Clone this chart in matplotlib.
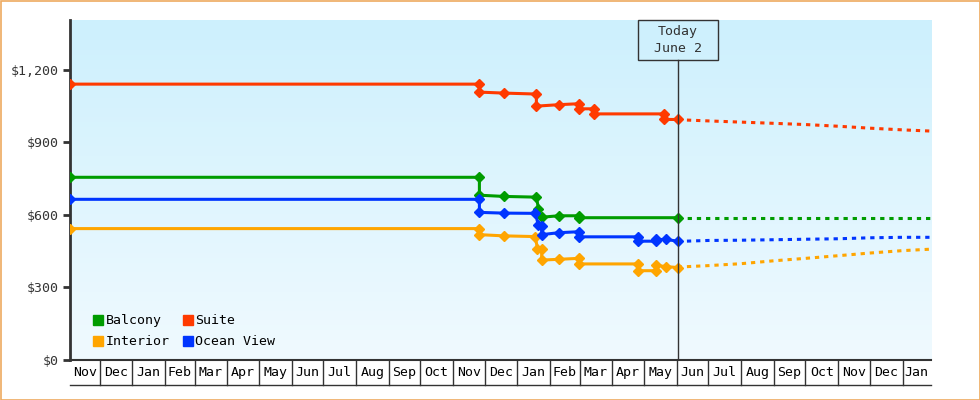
import matplotlib
matplotlib.use("Agg")
import matplotlib.pyplot as plt
import matplotlib.dates as mdates
from matplotlib.colors import LinearSegmentedColormap
from matplotlib.lines import Line2D
from matplotlib.patches import Rectangle
import numpy as np
import pandas as pd

# range of the time axis and "today"
x_start = "2016-11-03"
x_end = "2019-01-28"
today = "2018-06-02"

# observed prices (repeated dates = price change on that day)
balcony_dates = ["2016-11-03", "2017-11-26", "2017-11-26", "2017-12-19", "2018-01-19",
                 "2018-01-21", "2018-01-24", "2018-02-09", "2018-02-28", "2018-02-28", "2018-06-02"]
balcony_prices = [755, 755, 681, 676, 673, 626, 590, 596, 596, 588, 588]

suite_dates = ["2016-11-03", "2017-11-26", "2017-11-26", "2017-12-19", "2018-01-19", "2018-01-19",
               "2018-02-09", "2018-02-28", "2018-02-28", "2018-03-15", "2018-03-15",
               "2018-05-20", "2018-05-20", "2018-06-02"]
suite_prices = [1140, 1140, 1107, 1103, 1099, 1049, 1055, 1059, 1038, 1038, 1017, 1017, 994, 994]

ocean_dates = ["2016-11-03", "2017-11-26", "2017-11-26", "2017-12-19", "2018-01-18", "2018-01-21",
               "2018-01-24", "2018-01-24", "2018-02-09", "2018-02-28", "2018-02-28",
               "2018-04-25", "2018-04-25", "2018-05-12", "2018-05-12", "2018-05-22", "2018-06-02"]
ocean_prices = [664, 664, 610, 607, 606, 556, 553, 518, 526, 530, 509, 509, 491, 491, 498, 498, 491]

interior_dates = ["2016-11-03", "2017-11-26", "2017-11-26", "2017-12-19", "2018-01-18", "2018-01-20",
                  "2018-01-24", "2018-01-24", "2018-02-09", "2018-02-28", "2018-02-28",
                  "2018-04-25", "2018-04-25", "2018-05-12", "2018-05-12", "2018-05-22", "2018-06-02"]
interior_prices = [543, 543, 518, 513, 510, 460, 460, 413, 416, 420, 397, 397, 369, 369, 391, 386, 382]

# forecast after today
fc_dates = ["2018-06-02", "2018-07-01", "2018-08-01", "2018-09-01", "2018-10-01",
            "2018-11-01", "2018-12-01", "2019-01-01", "2019-01-28"]
fc_balcony = [588, 588, 588, 588, 588, 588, 588, 588, 588]
fc_suite = [993, 988, 983, 978, 973, 966, 958, 951, 946]
fc_ocean = [490, 494, 495, 497, 499, 501, 505, 507, 507]
fc_interior = [384, 390, 398, 410, 420, 431, 442, 452, 458]

names = ["Balcony", "Interior", "Suite", "Ocean View"]
colors = ["#009c00", "#ffa500", "#ff3a00", "#0035ff"]

yticks = [0, 300, 600, 900, 1200]
ytick_labels = ["$0", "$300", "$600", "$900", "$1,200"]

font = "DejaVu Sans Mono"
dark = "#333333"

fig = plt.figure(figsize=(9.8, 4), dpi=100)
fig.patch.set_facecolor("white")
ax = fig.add_axes([70 / 980, 40 / 400, 861 / 980, 340 / 400])

# background gradient
cmap = LinearSegmentedColormap.from_list("bg", ["#f0faff", "#cdf0fd"])
grad = np.linspace(0, 1, 256).reshape(-1, 1)
ax.imshow(grad, extent=[0, 1, 0, 1], transform=ax.transAxes, cmap=cmap,
          aspect="auto", origin="lower", zorder=0)

series = [
    (balcony_dates, balcony_prices, fc_balcony, colors[0]),
    (interior_dates, interior_prices, fc_interior, colors[1]),
    (ocean_dates, ocean_prices, fc_ocean, colors[3]),
    (suite_dates, suite_prices, fc_suite, colors[2]),
]
for dts, prices, fc, c in series:
    ax.plot(pd.to_datetime(dts), prices, color=c, lw=2.2, marker="D", ms=5,
            solid_joinstyle="miter", zorder=3)
    ax.plot(pd.to_datetime(fc_dates), fc, color=c, lw=2.2,
            linestyle=(0, (1.4, 1.6)), dash_capstyle="butt", zorder=3)

x0 = mdates.date2num(pd.Timestamp(x_start))
x1 = mdates.date2num(pd.Timestamp(x_end))
t = mdates.date2num(pd.Timestamp(today))
ax.set_xlim(x0, x1)
ax.set_ylim(0, 1405)

# today marker and box
box_bottom = 300 / 340
ax.plot([t, t], [0, box_bottom], transform=ax.get_xaxis_transform(),
        color=dark, lw=1, zorder=4)
half = 40 / (861 / (x1 - x0))
ax.add_patch(Rectangle((t - half, box_bottom), 2 * half, 1 - box_bottom,
                       transform=ax.get_xaxis_transform(), fill=False,
                       edgecolor=dark, lw=1, zorder=4, clip_on=False))
ax.text(t, (1 + box_bottom) / 2, "Today\nJune 2", transform=ax.get_xaxis_transform(),
        ha="center", va="center", family=font, fontsize=9.5, color=dark,
        linespacing=1.4, zorder=5)

# y axis
ax.set_yticks(yticks)
ax.set_yticklabels(ytick_labels, family=font, fontsize=9.5, color=dark)
ax.tick_params(axis="y", length=5, width=2, color=dark, pad=3)
ax.set_xticks([])
for s in ["top", "right"]:
    ax.spines[s].set_visible(False)
ax.spines["left"].set_linewidth(2)
ax.spines["left"].set_color(dark)
ax.spines["bottom"].set_linewidth(1.5)
ax.spines["bottom"].set_color(dark)

# month cells below the axis
cell_y = -25 / 340
bounds = [x0] + [mdates.date2num(d) for d in pd.date_range(x_start, x_end, freq="MS")] + [x1]
xt = ax.get_xaxis_transform()
ax.plot([x0, x1], [cell_y, cell_y], transform=xt, color=dark, lw=1, clip_on=False)
for i in range(len(bounds) - 1):
    a, b = bounds[i], bounds[i + 1]
    if i > 0:
        ax.plot([a, a], [0, cell_y], transform=xt, color=dark, lw=1, clip_on=False)
    lab = mdates.num2date(a).strftime("%b")
    ax.text((a + b) / 2, cell_y / 2, lab, transform=xt, ha="center", va="center",
            family=font, fontsize=9.5, color="black")

# legend
handles = [Line2D([], [], marker="s", ls="none", color=c, ms=7.5) for c in colors]
ax.legend(handles, names, ncol=2, loc="lower left", bbox_to_anchor=(0.013, 0.0),
          frameon=False, handlelength=0.8, handletextpad=0.15, columnspacing=1.0,
          labelspacing=0.58, prop={"family": font, "size": 9.5})

# orange border of the whole picture
fig.add_artist(Rectangle((0.5 / 980, 0.5 / 400), 979 / 980, 399 / 400,
                         transform=fig.transFigure, fill=False,
                         edgecolor="#eeaa60", lw=1.2))

fig.savefig("out.png", dpi=100)
